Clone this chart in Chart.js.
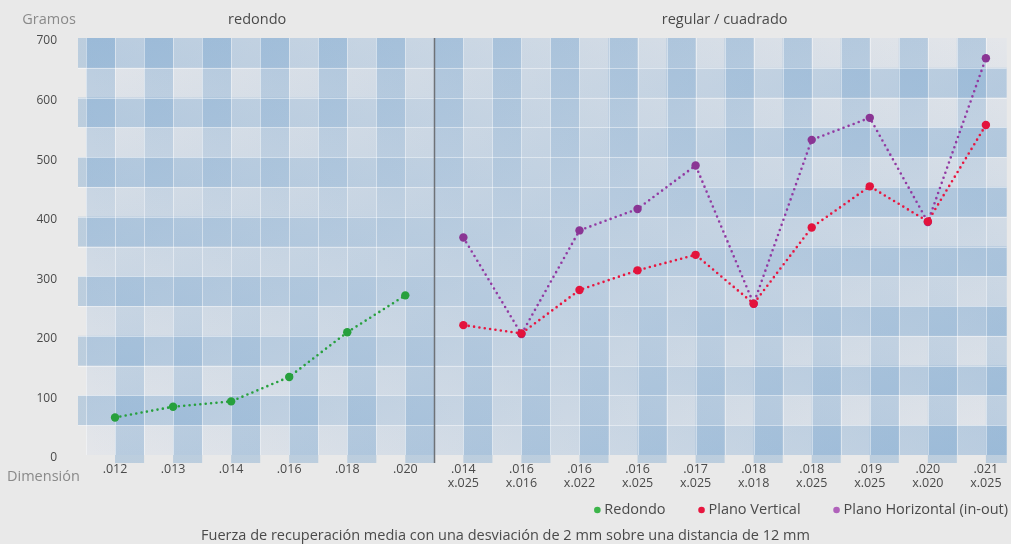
<!DOCTYPE html>
<html>
<head>
<meta charset="utf-8">
<script src="https://cdn.jsdelivr.net/npm/chart.js@4/dist/chart.umd.min.js"></script>
<style>
  html, body { margin: 0; padding: 0; background: #e9e9e9; }
  #wrap { width: 1011px; height: 544px; }
</style>
</head>
<body>
<div id="wrap"><canvas id="chart"></canvas></div>
<script>
// categorias (dimensión del alambre)
const dimensiones = ['.012', '.013', '.014', '.016', '.018', '.020',
  '.014 x.025', '.016 x.016', '.016 x.022', '.016 x.025', '.017 x.025',
  '.018 x.018', '.018 x.025', '.019 x.025', '.020 x.020', '.021 x.025'];
const grupos = ['redondo', 'regular / cuadrado'];
const nRedondo = 6;

// gramos
const redondo = [63, 81, 90, 131, 206, 268, null, null, null, null, null, null, null, null, null, null];
const planoVertical = [null, null, null, null, null, null, 218, 204, 277, 310, 336, 254, 382, 451, 392, 554];
const planoHorizontal = [null, null, null, null, null, null, 365, 203, 377, 413, 486, 254, 529, 566, 391, 666];

const yTicks = [0, 100, 200, 300, 400, 500, 600, 700];

const FONT = "'Open Sans', 'Noto Sans', sans-serif";
const TXT = '#4a4a4a';

const toPts = arr => arr.map((v, i) => ({ x: i, y: v }));

// fondo a cuadros (plaid) detras de las lineas
const plaid = {
  id: 'plaid',
  beforeDatasetsDraw(chart) {
    const { ctx, chartArea: a, scales: { x, y } } = chart;
    const step = x.getPixelForValue(1) - x.getPixelForValue(0);
    const half = 50;
    const ext = 8;
    ctx.save();
    ctx.fillStyle = '#e4e6ea';
    ctx.fillRect(a.left, a.top, a.right - a.left, a.bottom - a.top);
    ctx.beginPath();
    ctx.rect(a.left - ext, a.top, a.right - a.left + ext, a.bottom - a.top + ext);
    ctx.clip();

    const blue = 'rgba(85,144,198,';
    const al = 0.3;
    // verticales: arriba a la izquierda del punto, abajo a la derecha
    const gA = ctx.createLinearGradient(0, a.top, 0, a.bottom);
    gA.addColorStop(0, blue + al + ')');
    gA.addColorStop(1, blue + '0)');
    const gB = ctx.createLinearGradient(0, a.top, 0, a.bottom);
    gB.addColorStop(0, blue + '0)');
    gB.addColorStop(1, blue + al + ')');
    dimensiones.forEach((d, i) => {
      const px = x.getPixelForValue(i);
      ctx.fillStyle = gA;
      ctx.fillRect(px - step / 2, a.top, step / 2, a.bottom - a.top + ext);
      ctx.fillStyle = gB;
      ctx.fillRect(px, a.top, step / 2, a.bottom - a.top + ext);
    });
    // horizontales
    const gC = ctx.createLinearGradient(a.left, 0, a.right, 0);
    gC.addColorStop(0, blue + al + ')');
    gC.addColorStop(1, blue + '0)');
    const gD = ctx.createLinearGradient(a.left, 0, a.right, 0);
    gD.addColorStop(0, blue + '0)');
    gD.addColorStop(1, blue + al + ')');
    for (let v = 0; v < 700; v += 100) {
      const y0 = y.getPixelForValue(v), y1 = y.getPixelForValue(v + half), y2 = y.getPixelForValue(v + 2 * half);
      ctx.fillStyle = gD;
      ctx.fillRect(a.left - ext, y1, a.right - a.left + ext, y0 - y1);
      ctx.fillStyle = gC;
      ctx.fillRect(a.left - ext, y2, a.right - a.left + ext, y1 - y2);
    }
    // lineas blancas finas
    ctx.strokeStyle = 'rgba(255,255,255,0.45)';
    ctx.lineWidth = 1;
    ctx.beginPath();
    for (let i = -0.5; i < dimensiones.length; i += 0.5) {
      const px = Math.round(x.getPixelForValue(i)) + 0.5;
      ctx.moveTo(px, a.top);
      ctx.lineTo(px, a.bottom);
    }
    for (let v = 50; v < 700; v += 50) {
      const py = Math.round(y.getPixelForValue(v)) + 0.5;
      ctx.moveTo(a.left - ext, py);
      ctx.lineTo(a.right, py);
    }
    ctx.stroke();
    ctx.restore();

    // separador redondo / rectangular
    ctx.save();
    const sx = Math.round(x.getPixelForValue(nRedondo - 0.5)) + 0.5;
    ctx.strokeStyle = '#6e7277';
    ctx.lineWidth = 1.5;
    ctx.beginPath();
    ctx.moveTo(sx, a.top);
    ctx.lineTo(sx, a.bottom + ext);
    ctx.stroke();
    ctx.restore();
  },
  afterDraw(chart) {
    const { ctx, chartArea: a, scales: { x } } = chart;
    ctx.save();
    ctx.font = '14.5px ' + FONT;
    ctx.textBaseline = 'middle';
    ctx.textAlign = 'center';
    ctx.fillStyle = TXT;
    ctx.fillText(grupos[0], x.getPixelForValue((nRedondo - 1) / 2) - 3, 20);
    ctx.fillText(grupos[1], x.getPixelForValue((nRedondo + dimensiones.length - 1) / 2), 20);
    ctx.fillStyle = '#8a8a8a';
    ctx.fillText('Gramos', 49, 20);
    ctx.textAlign = 'left';
    ctx.fillText('Dimensión', 7, a.bottom + 22);

    // leyenda (alineada a la derecha)
    ctx.font = '14.5px ' + FONT;
    const ly = 510;
    const gap = 36, dotGap = 7;
    let xr = 1008;
    const ds = chart.data.datasets;
    for (let i = ds.length - 1; i >= 0; i--) {
      const w = ctx.measureText(ds[i].label).width;
      const tx = xr - w;
      ctx.fillStyle = TXT;
      ctx.fillText(ds[i].label, tx, ly);
      ctx.fillStyle = ds[i].backgroundColor;
      ctx.beginPath();
      ctx.arc(tx - dotGap, ly, 3.3, 0, Math.PI * 2);
      ctx.fill();
      xr = tx - dotGap - gap;
    }
    ctx.restore();
  }
};

function serie(label, data, line, point, legend) {
  return {
    label: label,
    data: toPts(data),
    borderColor: line,
    backgroundColor: legend,
    borderWidth: 2.6,
    borderDash: [0, 5.4],
    borderCapStyle: 'round',
    pointRadius: 4.2,
    pointHoverRadius: 4.2,
    pointBackgroundColor: point,
    pointBorderColor: point,
    pointBorderWidth: 0,
    tension: 0,
    spanGaps: false
  };
}

new Chart(document.getElementById('chart'), {
  type: 'line',
  data: {
    datasets: [
      serie('Redondo', redondo, '#27a03d', '#27a03d', '#3cb54a'),
      serie('Plano Vertical', planoVertical, '#e8163f', '#e3133c', '#e8163f'),
      serie('Plano Horizontal (in-out)', planoHorizontal, '#923aa2', '#8a3594', '#b062bb')
    ]
  },
  options: {
    responsive: true,
    maintainAspectRatio: false,
    animation: false,
    layout: { padding: { top: 38, left: 0, right: 0, bottom: 0 } },
    plugins: {
      tooltip: { enabled: false },
      legend: { display: false },
      title: {
        display: true,
        position: 'bottom',
        text: 'Fuerza de recuperación media con una desviación de 2 mm sobre una distancia de 12 mm',
        color: TXT,
        font: { family: FONT, size: 14.5, weight: 'normal', lineHeight: 1 },
        padding: { top: 32, bottom: 0.5 }
      }
    },
    scales: {
      x: {
        type: 'linear',
        min: -0.5,
        max: dimensiones.length - 0.64,
        grid: { display: false, drawTicks: false },
        border: { display: false },
        afterBuildTicks(s) { s.ticks = dimensiones.map((d, i) => ({ value: i })); },
        ticks: {
          autoSkip: false,
          maxRotation: 0,
          padding: 7,
          color: TXT,
          font: { family: FONT, size: 12.5, lineHeight: 1.12 },
          callback: v => dimensiones[v] ? dimensiones[v].split(' ') : ''
        }
      },
      y: {
        min: 0,
        max: 700,
        grid: { display: false, drawTicks: false },
        border: { display: false },
        afterBuildTicks(s) { s.ticks = yTicks.map(v => ({ value: v })); },
        afterFit(s) { s.width = 86; },
        ticks: {
          padding: 29,
          labelOffset: 3,
          color: TXT,
          font: { family: FONT, size: 12 }
        }
      }
    }
  },
  plugins: [plaid]
});
</script>
</body>
</html>
